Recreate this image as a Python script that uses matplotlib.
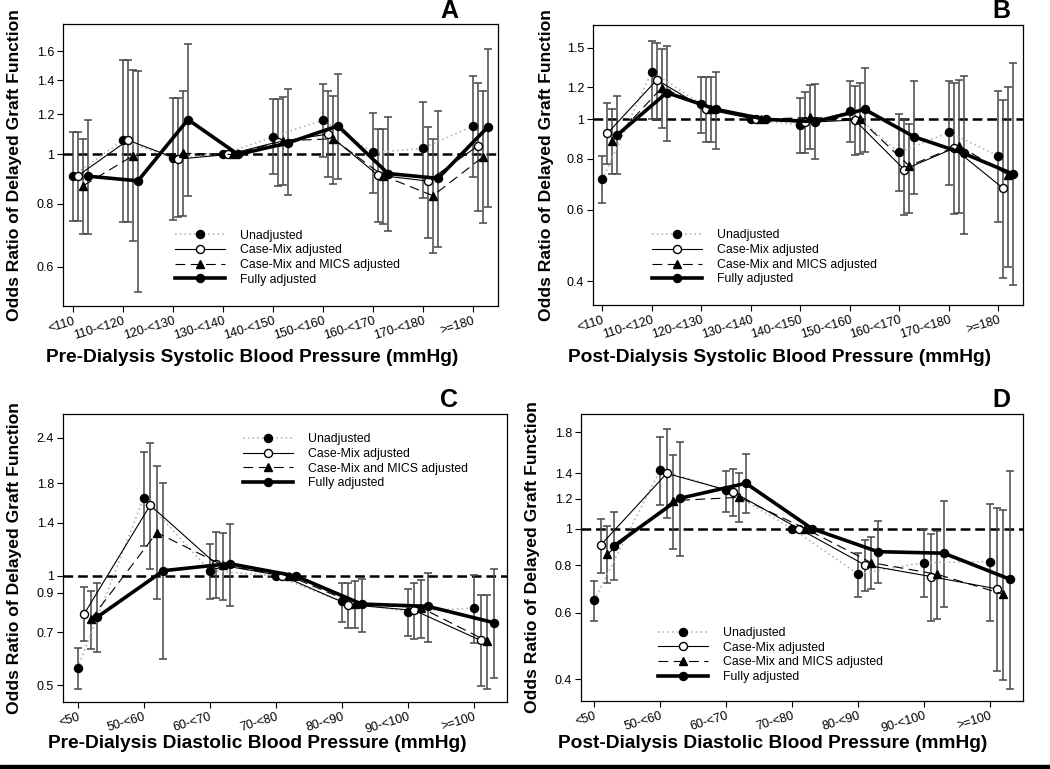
import numpy as np
import matplotlib
matplotlib.use('Agg')
import matplotlib.pyplot as plt
from matplotlib.patches import Rectangle
from matplotlib.ticker import NullLocator

plt.rcParams['font.family'] = ['Liberation Sans', 'DejaVu Sans']
plt.rcParams['lines.scale_dashes'] = False

# Category labels
sbp_labels = ['<110', '110-<120', '120-<130', '130-<140', '140-<150',
              '150-<160', '160-<170', '170-<180', '>=180']
dbp_labels = ['<50', '50-<60', '60-<70', '70-<80', '80-<90', '90-<100', '>=100']
series_names = ['Unadjusted', 'Case-Mix adjusted', 'Case-Mix and MICS adjusted', 'Fully adjusted']

# Panel A: pre-dialysis systolic (reference 130-<140)
a_unadj = [0.908, 1.067, 0.982, 1.0, 1.084, 1.169, 1.009, 1.028, 1.139]
a_unadj_lo = [0.740, 0.736, 0.741, None, 0.914, 0.989, 0.840, 0.819, 0.903]
a_unadj_hi = [1.108, 1.54, 1.295, None, 1.284, 1.377, 1.209, 1.269, 1.43]
a_cm = [0.908, 1.067, 0.979, 1.0, 1.059, 1.097, 0.910, 0.886, 1.040]
a_cm_lo = [0.740, 0.736, 0.753, None, 0.866, 0.903, 0.735, 0.685, 0.774]
a_cm_hi = [1.108, 1.54, 1.295, None, 1.284, 1.334, 1.125, 1.134, 1.387]
a_mics = [0.867, 0.994, 1.005, 1.0, 1.064, 1.074, 0.908, 0.829, 0.989]
a_mics_lo = [0.698, 0.674, 0.755, None, 0.870, 0.876, 0.729, 0.638, 0.731]
a_mics_hi = [1.072, 1.47, 1.335, None, 1.30, 1.304, 1.125, 1.071, 1.334]
a_full = [0.906, 0.887, 1.172, 1.0, 1.054, 1.139, 0.917, 0.897, 1.134]
a_full_lo = [0.698, 0.536, 0.829, None, 0.831, 0.893, 0.706, 0.657, 0.786]
a_full_hi = [1.172, 1.46, 1.651, None, 1.344, 1.445, 1.187, 1.216, 1.619]

# Panel B: post-dialysis systolic
b_unadj = [0.712, 1.31, 1.089, 1.0, 0.968, 1.048, 0.83, 0.929, 0.814]
b_unadj_lo = [0.622, 1.0, 0.927, None, 0.828, 0.881, 0.666, 0.690, 0.560]
b_unadj_hi = [0.814, 1.56, 1.268, None, 1.13, 1.242, 1.029, 1.242, 1.176]
b_cm = [0.924, 1.25, 1.058, 1.0, 0.983, 0.996, 0.753, 0.849, 0.677]
b_cm_lo = [0.775, 0.996, 0.881, None, 0.828, 0.817, 0.582, 0.585, 0.408]
b_cm_hi = [1.099, 1.54, 1.268, None, 1.17, 1.208, 1.0, 1.226, 1.116]
b_mics = [0.886, 1.196, 1.06, 1.0, 1.011, 1.0, 0.769, 0.862, 0.730]
b_mics_lo = [0.734, 0.95, 0.881, None, 0.844, 0.82, 0.59, 0.59, 0.433]
b_mics_hi = [1.06, 1.49, 1.268, None, 1.214, 1.226, 0.974, 1.249, 1.203]
b_full = [0.915, 1.163, 1.058, 1.0, 0.987, 1.058, 0.906, 0.825, 0.734]
b_full_lo = [0.734, 0.885, 0.845, None, 0.797, 0.83, 0.654, 0.524, 0.391]
b_full_hi = [1.141, 1.51, 1.31, None, 1.219, 1.34, 1.242, 1.278, 1.373]

# Panel C: pre-dialysis diastolic (reference 70-<80)
c_unadj = [0.557, 1.637, 1.034, 1.0, 0.851, 0.798, 0.816]
c_unadj_lo = [0.488, 1.207, 0.866, None, 0.747, 0.682, 0.655]
c_unadj_hi = [0.632, 2.196, 1.222, None, 0.955, 0.923, 1.008]
c_cm = [0.786, 1.566, 1.077, 1.0, 0.834, 0.804, 0.665]
c_cm_lo = [0.661, 1.048, 0.87, None, 0.719, 0.671, 0.498]
c_cm_hi = [0.931, 2.325, 1.319, None, 0.957, 0.957, 0.888]
c_mics = [0.76, 1.316, 1.07, 1.0, 0.839, 0.818, 0.661]
c_mics_lo = [0.629, 0.862, 0.861, None, 0.72, 0.675, 0.489]
c_mics_hi = [0.911, 2.004, 1.316, None, 0.967, 0.977, 0.888]
c_full = [0.771, 1.034, 1.081, 1.0, 0.837, 0.825, 0.744]
c_full_lo = [0.619, 0.591, 0.827, None, 0.70, 0.658, 0.524]
c_full_hi = [0.959, 1.803, 1.394, None, 0.983, 1.019, 1.048]

# Panel D: post-dialysis diastolic
d_unadj = [0.647, 1.429, 1.265, 1.0, 0.759, 0.813, 0.818]
d_unadj_lo = [0.571, 1.155, 1.109, None, 0.661, 0.658, 0.571]
d_unadj_hi = [0.726, 1.75, 1.42, None, 0.864, 0.998, 1.162]
d_cm = [0.905, 1.40, 1.252, 1.0, 0.802, 0.747, 0.693]
d_cm_lo = [0.765, 1.065, 1.08, None, 0.682, 0.571, 0.421]
d_cm_hi = [1.063, 1.83, 1.44, None, 0.933, 0.966, 1.136]
d_mics = [0.857, 1.186, 1.21, 1.0, 0.813, 0.757, 0.671]
d_mics_lo = [0.718, 0.884, 1.044, None, 0.691, 0.576, 0.398]
d_mics_hi = [1.018, 1.566, 1.406, None, 0.952, 0.988, 1.12]
d_full = [0.90, 1.203, 1.318, 1.0, 0.869, 0.861, 0.735]
d_full_lo = [0.73, 0.849, 1.098, None, 0.717, 0.62, 0.377]
d_full_hi = [1.107, 1.699, 1.572, None, 1.05, 1.186, 1.423]

# line styles for the four models
styles = [
    dict(color='#b5b5b5', lw=1.2, ls=(0, (1.2, 2.2)), marker='o', ms=5.8, mfc='black', mec='black'),
    dict(color='black', lw=0.8, ls='-', marker='o', ms=5.8, mfc='white', mec='black'),
    dict(color='black', lw=0.8, ls=(0, (7, 4)), marker='^', ms=5.8, mfc='black', mec='black'),
    dict(color='black', lw=2.6, ls='-', marker='o', ms=5.8, mfc='black', mec='black'),
]
offsets = [0.0, 0.1, 0.2, 0.3]

W, H = 1050, 769
fig = plt.figure(figsize=(10.5, 7.69), dpi=100)


def px_rect(x0, y0, x1, y1):
    return [x0 / W, 1 - y1 / H, (x1 - x0) / W, (y1 - y0) / H]


panels = [
    dict(rect=px_rect(63, 24, 498, 306), labels=sbp_labels,
         series=[(a_unadj, a_unadj_lo, a_unadj_hi), (a_cm, a_cm_lo, a_cm_hi),
                 (a_mics, a_mics_lo, a_mics_hi), (a_full, a_full_lo, a_full_hi)],
         yticks=[0.6, 0.8, 1, 1.2, 1.4, 1.6], ylim=(0.502, 1.81), xlim=(-0.2, 8.5),
         xlabel='Pre-Dialysis Systolic Blood Pressure (mmHg)', xlab_pos=(252, 358),
         ylab_x=15, letter='A', letter_pos=(449, 11), leg=(0.257, 0.271)),
    dict(rect=px_rect(593, 25, 1023, 305), labels=sbp_labels,
         series=[(b_unadj, b_unadj_lo, b_unadj_hi), (b_cm, b_cm_lo, b_cm_hi),
                 (b_mics, b_mics_lo, b_mics_hi), (b_full, b_full_lo, b_full_hi)],
         yticks=[0.4, 0.6, 0.8, 1, 1.2, 1.5], ylim=(0.35, 1.705), xlim=(-0.19, 8.5),
         xlabel='Post-Dialysis Systolic Blood Pressure (mmHg)', xlab_pos=(780, 358),
         ylab_x=546, letter='B', letter_pos=(1001, 11), leg=(0.138, 0.27)),
    dict(rect=px_rect(63, 414, 507, 702), labels=dbp_labels,
         series=[(c_unadj, c_unadj_lo, c_unadj_hi), (c_cm, c_cm_lo, c_cm_hi),
                 (c_mics, c_mics_lo, c_mics_hi), (c_full, c_full_lo, c_full_hi)],
         yticks=[0.5, 0.7, 0.9, 1, 1.4, 1.8, 2.4], ylim=(0.45, 2.79), xlim=(-0.22, 6.5),
         xlabel='Pre-Dialysis Diastolic Blood Pressure (mmHg)', xlab_pos=(257, 743),
         ylab_x=15, letter='C', letter_pos=(449, 400), leg=(0.406, 0.933)),
    dict(rect=px_rect(581, 414, 1023, 701), labels=dbp_labels,
         series=[(d_unadj, d_unadj_lo, d_unadj_hi), (d_cm, d_cm_lo, d_cm_hi),
                 (d_mics, d_mics_lo, d_mics_hi), (d_full, d_full_lo, d_full_hi)],
         yticks=[0.4, 0.6, 0.8, 1, 1.2, 1.4, 1.8], ylim=(0.35, 2.01), xlim=(-0.2, 6.5),
         xlabel='Post-Dialysis Diastolic Blood Pressure (mmHg)', xlab_pos=(773, 743),
         ylab_x=533, letter='D', letter_pos=(1001, 400), leg=(0.174, 0.258)),
]

for p in panels:
    ax = fig.add_axes(p['rect'])
    x = np.arange(len(p['labels']))
    ax.axhline(1.0, color='black', lw=1.8, ls=(0, (7, 3.5)), zorder=1)
    handles = []
    for (est, lo, hi), off, st, name in zip(p['series'], offsets, styles, series_names):
        est = np.array(est, dtype=float)
        xs = x + off
        idx = [i for i in range(len(est)) if lo[i] is not None]
        yerr = [[est[i] - lo[i] for i in idx], [hi[i] - est[i] for i in idx]]
        ax.errorbar(xs[idx], est[idx], yerr=yerr, fmt='none', ecolor='#474747',
                    elinewidth=1.1, capsize=3, capthick=1.1, zorder=2)
        line, = ax.plot(xs, est, zorder=3, label=name, **st)
        handles.append(line)

    ax.set_yscale('log')
    ax.set_ylim(*p['ylim'])
    ax.set_xlim(*p['xlim'])
    ax.set_yticks(p['yticks'])
    ax.set_yticklabels([f'{v:g}' for v in p['yticks']])
    ax.yaxis.set_minor_locator(NullLocator())
    ax.set_xticks(x)
    ax.set_xticklabels(p['labels'], rotation=17, ha='right', rotation_mode='anchor')
    ax.tick_params(direction='out', length=4, width=0.8, labelsize=9, pad=2.5)
    for s in ax.spines.values():
        s.set_linewidth(0.9)

    ax.legend(handles=handles, loc='upper left', bbox_to_anchor=p['leg'], frameon=False,
              fontsize=8.8, handlelength=4.1, handletextpad=1.2, labelspacing=0.22,
              borderpad=0, borderaxespad=0)

    fig.text(p['xlab_pos'][0] / W, 1 - p['xlab_pos'][1] / H, p['xlabel'],
             ha='center', va='center', fontsize=13.8, fontweight='bold')
    cy = (p['rect'][1] + p['rect'][3] / 2)
    fig.text(p['ylab_x'] / W, cy, 'Odds Ratio of Delayed Graft Function', rotation=90,
             ha='center', va='center', fontsize=12.6, fontweight='bold')
    fig.text(p['letter_pos'][0] / W, 1 - p['letter_pos'][1] / H, p['letter'],
             ha='center', va='center', fontsize=18, fontweight='bold')

fig.add_artist(Rectangle((0, 0), 1, 4 / H, transform=fig.transFigure, color='black'))

fig.savefig('out.png', dpi=100)
